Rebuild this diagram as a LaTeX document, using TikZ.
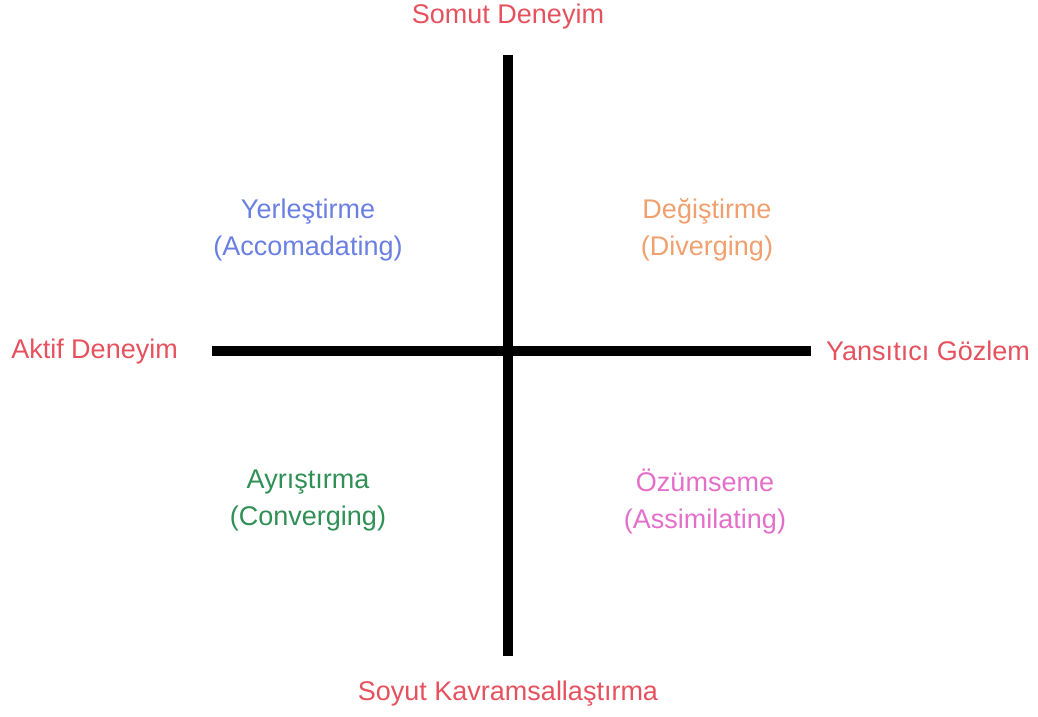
\documentclass[tikz,border=0pt]{standalone}
\usepackage{fontspec}
\setmainfont{Liberation Sans}
\usetikzlibrary{positioning}
\definecolor{polered}{HTML}{E5525E}
\definecolor{accblue}{HTML}{6A7FE2}
\definecolor{divorange}{HTML}{EFA06E}
\definecolor{congreen}{HTML}{2F8F55}
\definecolor{asspink}{HTML}{E46FCB}
\begin{document}
\begin{tikzpicture}[x=1pt,y=-1pt,
    pole/.style={text=polered,font=\fontsize{27}{33}\selectfont,inner sep=0pt},
    quad/.style={align=center,font=\fontsize{27}{37}\selectfont,inner sep=0pt},
    axis/.style={line width=10pt}]
    	\useasboundingbox (0,0) rectangle (1038,716);
    	\coordinate (top) at (508,55);
    	\coordinate (bottom) at (508,656);
    	\coordinate (left) at (212,351);
    	\coordinate (right) at (811,351);
    	\draw [axis] (top)--(bottom);
    	\draw [axis] (left)--(right);
    	\node [pole] (somut) at (508,17) {Somut Deneyim};
    	\node [pole] (soyut) at (508,694) {Soyut Kavramsallaştırma};
    	\node [pole,anchor=east] (aktif) at (178,352) {Aktif Deneyim};
    	\node [pole,anchor=west] (yansitici) at (826,351) {Yansıtıcı Gözlem};
    	\node [quad,text=accblue] (accom) at (308,230) {Yerleştirme\\(Accomadating)};
    	\node [quad,text=divorange] (diverg) at (707,230) {Değiştirme\\(Diverging)};
    	\node [quad,text=congreen] (converg) at (308,501) {Ayrıştırma\\(Converging)};
    	\node [quad,text=asspink] (assim) at (705,501) {Özümseme\\(Assimilating)};
    	\end{tikzpicture}
\end{document}
